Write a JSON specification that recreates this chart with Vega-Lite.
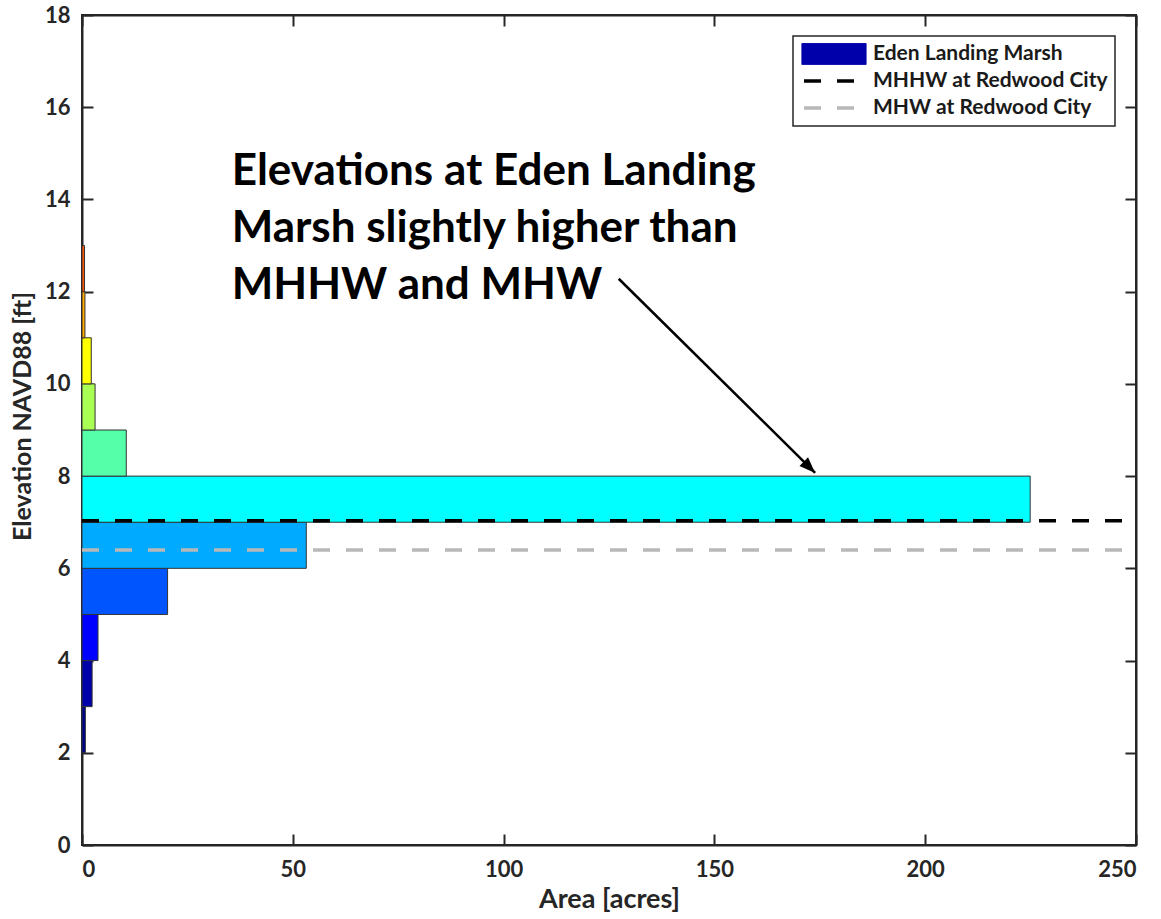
{
  "$schema": "https://vega.github.io/schema/vega-lite/v6.json",
  "width": 1054,
  "height": 830,
  "autosize": {"type": "none"},
  "padding": {"left": 82, "top": 15, "right": 25, "bottom": 74},
  "background": "white",
  "config": {
    "font": "Lato",
    "view": {"stroke": "#262626", "strokeWidth": 2},
    "axis": {
      "domainColor": "#262626", "domainWidth": 2,
      "tickColor": "#262626", "tickWidth": 2, "tickSize": -11,
      "grid": false,
      "labelFont": "Lato", "labelFontWeight": "bold", "labelFontSize": 22, "labelColor": "#262626",
      "titleFont": "Lato", "titleFontWeight": "bold", "titleColor": "#262626"
    }
  },
  "layer": [
    {
      "data": {"values": [
        {"lo": 2, "hi": 3, "area": 0.8},
        {"lo": 3, "hi": 4, "area": 2.4},
        {"lo": 4, "hi": 5, "area": 3.8},
        {"lo": 5, "hi": 6, "area": 20.3},
        {"lo": 6, "hi": 7, "area": 53.2},
        {"lo": 7, "hi": 8, "area": 224.9},
        {"lo": 8, "hi": 9, "area": 10.5},
        {"lo": 9, "hi": 10, "area": 3.1},
        {"lo": 10, "hi": 11, "area": 2.2},
        {"lo": 11, "hi": 12, "area": 0.7},
        {"lo": 12, "hi": 13, "area": 0.6}
      ]},
      "mark": {"type": "rect", "stroke": "#333333", "strokeWidth": 1},
      "encoding": {
        "y": {"field": "lo", "type": "quantitative", "scale": {"domain": [0, 18], "nice": false},
              "axis": {"orient": "left", "values": [0, 2, 4, 6, 8, 10, 12, 14, 16, 18], "title": "Elevation NAVD88 [ft]", "titleFontSize": 25, "titleY": 401, "labelPadding": 23, "titlePadding": 9}},
        "y2": {"field": "hi"},
        "x": {"field": "area", "type": "quantitative", "scale": {"domain": [0, 250], "nice": false},
              "axis": {"orient": "bottom", "values": [0, 50, 100, 150, 200, 250], "title": "Area [acres]", "titleFontSize": 27, "labelPadding": 25, "titlePadding": 6}},
        "x2": {"datum": 0},
        "fill": {"field": "lo", "type": "ordinal",
                 "scale": {"domain": [2, 3, 4, 5, 6, 7, 8, 9, 10, 11, 12],
                           "range": ["#00008F", "#0000AA", "#0000FF", "#0055FF", "#00AAFF", "#00FFFF", "#55FFAA", "#AAFF55", "#FFFF00", "#FFAA00", "#FF5500"]},
                 "legend": null}
      }
    },
    {
      "data": {"values": [
        {"series": "MHHW at Redwood City", "elev": 7.03},
        {"series": "MHW at Redwood City", "elev": 6.4}
      ]},
      "mark": {"type": "rule", "strokeWidth": 3.5},
      "encoding": {
        "y": {"field": "elev", "type": "quantitative",
              "axis": {"orient": "right", "values": [0, 2, 4, 6, 8, 10, 12, 14, 16, 18], "labels": false, "title": null}},
        "x": {"datum": 0, "type": "quantitative",
              "axis": {"orient": "top", "values": [0, 50, 100, 150, 200, 250], "labels": false, "title": null}},
        "x2": {"datum": 250},
        "color": {"field": "series", "type": "nominal",
                  "scale": {"domain": ["Eden Landing Marsh", "MHHW at Redwood City", "MHW at Redwood City"], "range": ["#0000AA", "#000000", "#B8B8B8"]},
                  "legend": {
                    "title": null, "orient": "top-right", "offset": 21, "padding": 7,
                    "strokeColor": "#262626", "fillColor": "white", "cornerRadius": 0,
                    "symbolType": "stroke", "symbolSize": 3600, "symbolStrokeWidth": 3.5, "clipHeight": 22, "rowPadding": 5,
                    "symbolOffset": 23.5,
                    "labelFont": "Lato", "labelFontWeight": "bold", "labelFontSize": 21, "labelColor": "#1a1a1a", "labelOffset": 28.5, "labelLimit": 500,
                    "encode": {
                      "legend": {"update": {"strokeWidth": {"value": 1.5}}},
                      "symbols": {"update": {
                        "shape": {"signal": "datum.value === 'Eden Landing Marsh' ? 'M-1.07,-0.35H1.07V0.35H-1.07Z' : 'stroke'"},
                        "fill": {"signal": "datum.value === 'Eden Landing Marsh' ? '#0000AA' : 'transparent'"},
                        "stroke": {"signal": "datum.value === 'Eden Landing Marsh' ? '#333333' : (datum.value === 'MHHW at Redwood City' ? '#000000' : '#B8B8B8')"},
                        "strokeWidth": {"signal": "datum.value === 'Eden Landing Marsh' ? 1 : 3.5"}
                      }}
                    }
                  }},
        "strokeDash": {"field": "series", "type": "nominal",
                  "scale": {"domain": ["Eden Landing Marsh", "MHHW at Redwood City", "MHW at Redwood City"], "range": [[1, 0], [17, 16], [17, 16]]},
                  "legend": {
                    "title": null, "orient": "top-right", "offset": 21, "padding": 7,
                    "strokeColor": "#262626", "fillColor": "white", "cornerRadius": 0,
                    "symbolType": "stroke", "symbolSize": 3600, "symbolStrokeWidth": 3.5, "clipHeight": 22, "rowPadding": 5,
                    "symbolOffset": 23.5,
                    "labelFont": "Lato", "labelFontWeight": "bold", "labelFontSize": 21, "labelColor": "#1a1a1a", "labelOffset": 28.5, "labelLimit": 500
                  }}
      }
    },
    {
      "data": {"values": [{"x": 127.3, "y": 12.28, "x2": 173.9, "y2": 8.07}]},
      "mark": {"type": "rule", "color": "black", "strokeWidth": 2.5},
      "encoding": {
        "x": {"field": "x", "type": "quantitative", "axis": null},
        "y": {"field": "y", "type": "quantitative", "axis": null},
        "x2": {"field": "x2"},
        "y2": {"field": "y2"}
      }
    },
    {
      "data": {"values": [{"x": 173.9, "y": 8.07}]},
      "mark": {"type": "point", "shape": "M0,0L-0.38,1L0.38,1Z", "filled": true, "color": "black", "opacity": 1, "size": 1024, "angle": 134.6, "strokeWidth": 0},
      "encoding": {
        "x": {"field": "x", "type": "quantitative", "axis": null},
        "y": {"field": "y", "type": "quantitative", "axis": null}
      }
    },
    {
      "data": {"values": [{"x": 35.5, "y": 14.31, "label": ["Elevations at Eden Landing", "Marsh slightly higher than", "MHHW and MHW"]}]},
      "mark": {"type": "text", "align": "left", "baseline": "alphabetic", "font": "Lato", "fontWeight": "bold", "fontSize": 44, "lineHeight": 57, "color": "black"},
      "encoding": {
        "x": {"field": "x", "type": "quantitative", "axis": null},
        "y": {"field": "y", "type": "quantitative", "axis": null},
        "text": {"field": "label"}
      }
    }
  ],
  "resolve": {"axis": {"x": "independent", "y": "independent"}}
}
